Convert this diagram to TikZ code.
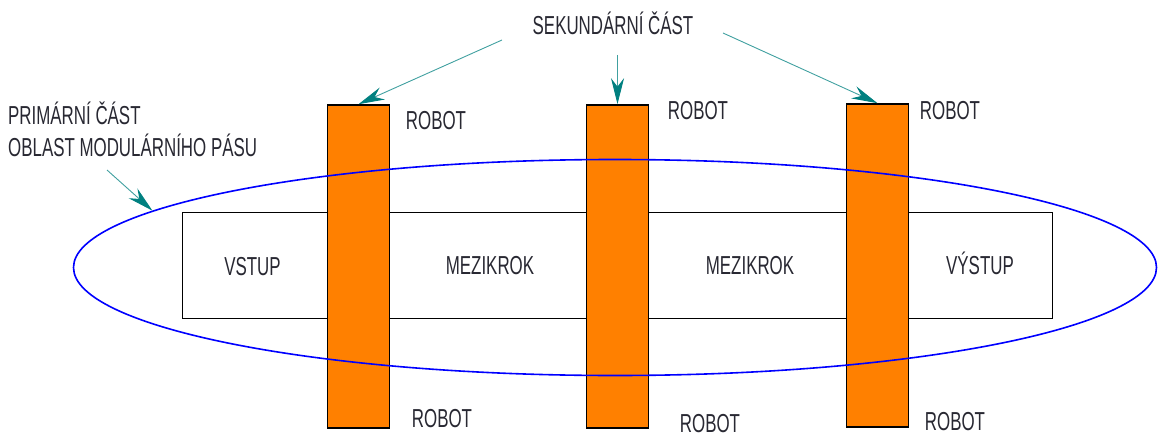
\documentclass[tikz,border=0pt]{standalone}
\usepackage{fontspec}
\setmainfont{Liberation Sans}
\usepackage{graphicx}
\usetikzlibrary{shapes.geometric,arrows.meta}
\definecolor{robotorange}{RGB}{255,128,0}
\definecolor{pointer}{RGB}{0,128,128}
\definecolor{zone}{RGB}{0,0,255}
\definecolor{ink}{RGB}{40,40,50}
\newcommand{\narrow}[1]{\scalebox{0.65}[1]{#1}}
\tikzset{
  lbl/.style={inner sep=0pt, text=ink, font=\fontsize{26}{30}\selectfont},
  robotbar/.style={draw=black, line width=1.6pt, fill=robotorange, minimum width=62pt, minimum height=323pt, inner sep=0pt},
  belt/.style={draw=black, line width=1.6pt, fill=white, minimum width=870pt, minimum height=106pt, inner sep=0pt},
  zonering/.style={draw=zone, line width=1.6pt, ellipse, minimum width=1083pt, minimum height=216pt, inner sep=0pt},
  pointarrow/.style={draw=pointer!75, line width=0.9pt, -{Stealth[length=26pt,width=13pt,color=pointer,fill=pointer]}}
}
\begin{document}
\begin{tikzpicture}[x=1pt,y=-1pt]
\useasboundingbox (0,0) rectangle (1159,436);
% modular belt with its stations
\node[belt] (belt) at (617.5,265.5) {};
\node[lbl, anchor=base] (vstup) at (252.5,275) {\narrow{VSTUP}};
\node[lbl, anchor=base] (mezi1) at (490,274) {\narrow{MEZIKROK}};
\node[lbl, anchor=base] (mezi2) at (750,274) {\narrow{MEZIKROK}};
\node[lbl, anchor=base] (vystup) at (980,274) {\narrow{VÝSTUP}};
% robots (secondary part)
\node[robotbar] (r1) at (358.5,266.5) {};
\node[robotbar] (r2) at (617.5,266.5) {};
\node[robotbar] (r3) at (877.5,265.5) {};
% primary area of the modular belt, drawn over the robots
\node[zonering] (zone) at (615,267.5) {};
% robot labels
\node[lbl, anchor=base] (r1top) at (436,129) {\narrow{ROBOT}};
\node[lbl, anchor=base] (r2top) at (698,119) {\narrow{ROBOT}};
\node[lbl, anchor=base] (r3top) at (950,119) {\narrow{ROBOT}};
\node[lbl, anchor=base] (r1bot) at (442,427) {\narrow{ROBOT}};
\node[lbl, anchor=base] (r2bot) at (710,432) {\narrow{ROBOT}};
\node[lbl, anchor=base] (r3bot) at (955,430) {\narrow{ROBOT}};
% callouts
\node[lbl, anchor=base] (sek) at (613,35) {\narrow{SEKUNDÁRNÍ ČÁST}};
\node[lbl, anchor=base west] (prim) at (8,124) {\narrow{PRIMÁRNÍ ČÁST}};
\node[lbl, anchor=base west] (oblast) at (8,156) {\narrow{OBLAST MODULÁRNÍHO PÁSU}};
\coordinate (sekL) at (502,40);
\coordinate (sekM) at (617.5,55);
\coordinate (sekR) at (723,33);
\coordinate (primS) at (107,170);
\draw[pointarrow] (sekL) -- (r1.north);
\draw[pointarrow] (sekM) -- (r2.north);
\draw[pointarrow] (sekR) -- (r3.north);
\draw[pointarrow] (primS) -- (zone.173);
\end{tikzpicture}
\end{document}
